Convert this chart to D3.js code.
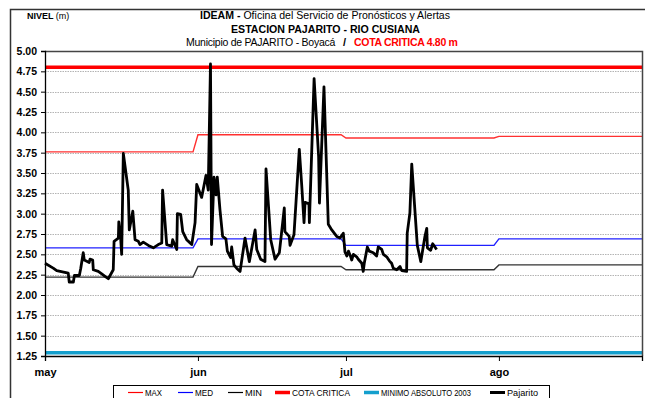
<!DOCTYPE html>
<html>
<head>
<meta charset="utf-8">
<script src="https://cdn.jsdelivr.net/npm/d3@7"></script>
<style>
  html, body { margin: 0; padding: 0; background: #fff; }
  svg { display: block; font-family: "Liberation Sans", Arial, sans-serif; }
</style>
</head>
<body>
<svg id="chart" width="645" height="398"></svg>
<script>
// ---- data ----------------------------------------------------------------
const monthLabels = ["may", "jun", "jul", "ago"];
const monthStarts = ["05-01 00", "06-01 00", "07-01 00", "08-01 00"];
const axisEnd = "08-30 00";
const levelTicks = [1.25, 1.50, 1.75, 2.00, 2.25, 2.50, 2.75, 3.00, 3.25, 3.50, 3.75, 4.00, 4.25, 4.50, 4.75, 5.00];

// historical monthly levels (m), one value per month May..Aug
const maxByMonth = [3.76, 3.97, 3.93, 3.95];
const medByMonth = [2.58, 2.69, 2.61, 2.69];
const minByMonth = [2.22, 2.35, 2.31, 2.37];

const cotaCritica = 4.80;
const minimoAbsoluto2003 = 1.29;

// Pajarito station readings: [month-day hour, level m]
const pajarito = [
  ["05-01 00",2.39],["05-02 16",2.33],["05-03 09",2.30],["05-05 17",2.27],["05-05 22",2.16],
  ["05-06 18",2.16],["05-06 23",2.24],["05-07 23",2.24],["05-08 06",2.33],["05-08 18",2.52],
  ["05-08 23",2.43],["05-09 23",2.40],["05-10 03",2.44],["05-10 16",2.43],["05-10 19",2.31],
  ["05-11 19",2.29],["05-12 12",2.26],["05-13 04",2.23],["05-13 20",2.20],["05-14 20",2.31],
  ["05-15 00",2.66],["05-15 21",2.70],["05-15 23",2.90],["05-16 08",2.70],["05-16 13",2.50],
  ["05-16 21",3.74],["05-17 21",3.29],["05-18 02",2.80],["05-18 19",3.03],["05-19 06",2.68],
  ["05-19 22",2.66],["05-20 06",2.62],["05-20 22",2.65],["05-21 23",2.61],["05-22 23",2.58],
  ["05-23 23",2.62],["05-24 16",2.64],["05-24 20",3.29],["05-25 16",2.62],["05-26 16",2.60],
  ["05-26 21",2.68],["05-27 17",2.56],["05-27 20",3.00],["05-28 12",2.99],["05-28 22",2.78],
  ["05-29 17",2.68],["05-30 06",2.65],["05-30 18",2.62],["05-31 10",2.89],["05-31 18",3.36],
  ["06-01 18",3.20],["06-02 15",3.47],["06-03 02",3.29],["06-03 13",4.84],["06-03 18",2.62],
  ["06-04 06",3.45],["06-04 16",3.23],["06-04 22",3.45],["06-05 11",3.05],["06-06 00",2.72],
  ["06-06 16",2.69],["06-06 23",2.54],["06-07 15",2.46],["06-07 20",2.59],["06-08 07",2.37],
  ["06-08 20",2.33],["06-09 13",2.29],["06-10 13",2.70],["06-11 10",2.41],["06-12 14",2.80],
  ["06-12 22",2.56],["06-13 17",2.44],["06-14 14",2.41],["06-14 19",3.55],["06-15 18",2.68],
  ["06-16 15",2.44],["06-17 12",2.52],["06-18 12",3.07],["06-18 15",2.78],["06-19 12",2.72],
  ["06-19 16",2.61],["06-20 11",2.74],["06-21 13",3.79],["06-22 01",3.34],["06-22 12",2.89],
  ["06-22 17",3.14],["06-23 12",3.12],["06-23 14",2.89],["06-24 13",4.66],["06-25 11",3.70],
  ["06-25 15",3.13],["06-26 13",4.56],["06-27 10",2.87],["06-28 03",2.80],["06-29 03",2.72],
  ["06-29 19",2.70],["06-30 11",2.76],["06-30 19",2.53],["07-01 04",2.48],["07-01 12",2.54],
  ["07-01 23",2.47],["07-02 04",2.43],["07-02 12",2.50],["07-03 04",2.47],["07-03 12",2.44],
  ["07-04 05",2.39],["07-04 12",2.29],["07-04 17",2.39],["07-05 08",2.59],["07-05 17",2.54],
  ["07-06 13",2.52],["07-07 05",2.48],["07-07 13",2.59],["07-08 06",2.56],["07-08 14",2.50],
  ["07-09 06",2.47],["07-09 19",2.42],["07-10 06",2.39],["07-10 14",2.33],["07-11 07",2.31],
  ["07-11 23",2.35],["07-12 07",2.30],["07-13 07",2.29],["07-13 10",2.76],["07-13 23",3.01],
  ["07-14 08",3.61],["07-15 11",2.61],["07-16 04",2.41],["07-17 00",2.72],["07-17 09",2.82],
  ["07-17 12",2.58],["07-18 04",2.55],["07-18 14",2.63],["07-19 09",2.56]
];

const legendItems = [
  { name: "MAX", color: "#ff0000", width: 1.2 },
  { name: "MED", color: "#0000ff", width: 1.2 },
  { name: "MIN", color: "#000000", width: 1.2 },
  { name: "COTA CRITICA", color: "#ff0000", width: 3.5 },
  { name: "MINIMO ABSOLUTO 2003", color: "#149fcd", width: 3.5 },
  { name: "Pajarito", color: "#000000", width: 3 }
];

// ---- layout --------------------------------------------------------------
const svg = d3.select("#chart");
const plot = { left: 45, right: 642, top: 51, bottom: 356 };
const parse = d3.timeParse("%m-%d %H");

const x = d3.scaleTime()
  .domain([parse(monthStarts[0]), parse(axisEnd)])
  .range([plot.left, plot.right]);
const y = d3.scaleLinear()
  .domain([1.25, 5.00])
  .range([plot.bottom, plot.top]);

// outer frame of the chart
svg.append("path")
  .attr("d", "M10.5,420 V9.5 H700")
  .attr("fill", "none").attr("stroke", "#333").attr("stroke-width", 1.5);

// ---- titles --------------------------------------------------------------
const nivel = svg.append("text").attr("x", 27).attr("y", 19)
  .attr("font-size", 9).attr("fill", "#000");
nivel.append("tspan").attr("font-weight", "bold").text("NIVEL ");
nivel.append("tspan").text("(m)");

const t1 = svg.append("text").attr("x", 200).attr("y", 19)
  .attr("font-size", 11).attr("textLength", 250).attr("lengthAdjust", "spacingAndGlyphs");
t1.append("tspan").attr("font-weight", "bold").text("IDEAM - ");
t1.append("tspan").text("Oficina del Servicio de Pronósticos y Alertas");

svg.append("text").attr("x", 231).attr("y", 33)
  .attr("font-size", 11).attr("font-weight", "bold")
  .attr("textLength", 189).attr("lengthAdjust", "spacingAndGlyphs")
  .text("ESTACION PAJARITO -  RIO CUSIANA");

// third title line: municipality, then the critical level in red
svg.append("text").attr("x", 186).attr("y", 46)
  .attr("font-size", 10.5).attr("letter-spacing", -0.25)
  .text("Municipio de PAJARITO - Boyacá");
svg.append("text").attr("x", 343).attr("y", 46)
  .attr("font-size", 11).attr("font-weight", "bold").text("/");
svg.append("text").attr("x", 354).attr("y", 46)
  .attr("font-size", 10.5).attr("font-weight", "bold").attr("fill", "#ff0000")
  .attr("letter-spacing", -0.3)
  .text("COTA CRITICA 4.80 m");

// ---- grid ------------------------------------------------------------------
svg.append("g").selectAll("line")
  .data(levelTicks.filter(v => v > 1.25 && v < 5))
  .join("line")
  .attr("x1", plot.left).attr("x2", plot.right)
  .attr("y1", d => Math.round(y(d)) + 0.5).attr("y2", d => Math.round(y(d)) + 0.5)
  .attr("stroke", "#b4b4b4").attr("stroke-width", 1).attr("stroke-dasharray", "1.5,1");

// ---- reference lines --------------------------------------------------------
const days = d3.timeDay.range(parse(monthStarts[0]), d3.timeDay.offset(parse(axisEnd), 1));
const monthIndex = d => d.getMonth() - 4;
const stepSeries = vals => days.map(d => ({ t: d, v: vals[monthIndex(d)] }));
const line = d3.line().x(d => x(d.t)).y(d => y(d.v));

svg.append("path").datum(stepSeries(maxByMonth)).attr("d", line)
  .attr("fill", "none").attr("stroke", "#ff3030").attr("stroke-width", 1.4);
svg.append("path").datum(stepSeries(medByMonth)).attr("d", line)
  .attr("fill", "none").attr("stroke", "#2020ff").attr("stroke-width", 1.4);
svg.append("path").datum(stepSeries(minByMonth)).attr("d", line)
  .attr("fill", "none").attr("stroke", "#333").attr("stroke-width", 1.4);

svg.append("line")
  .attr("x1", plot.left).attr("x2", plot.right)
  .attr("y1", y(cotaCritica)).attr("y2", y(cotaCritica))
  .attr("stroke", "#ff0000").attr("stroke-width", 3.5);
svg.append("line")
  .attr("x1", plot.left).attr("x2", plot.right)
  .attr("y1", y(minimoAbsoluto2003)).attr("y2", y(minimoAbsoluto2003))
  .attr("stroke", "#149fcd").attr("stroke-width", 3.5);

// ---- Pajarito series ---------------------------------------------------------
const obs = pajarito.map(([t, v]) => ({ t: parse(t), v }));
svg.append("path").datum(obs).attr("d", line)
  .attr("fill", "none").attr("stroke", "#000").attr("stroke-width", 2.8)
  .attr("stroke-linejoin", "round");

// ---- plot border and axes ---------------------------------------------------
svg.append("path")
  .attr("d", `M${plot.left},${plot.top + 0.5} H${plot.right + 0.5} V${plot.bottom}`)
  .attr("fill", "none").attr("stroke", "#444").attr("stroke-width", 1.5);

const yAxis = svg.append("g")
  .attr("transform", `translate(${plot.left},0)`)
  .call(d3.axisLeft(y).tickValues(levelTicks).tickFormat(d3.format(".2f")).tickSize(4).tickPadding(4));
const xAxis = svg.append("g")
  .attr("transform", `translate(0,${plot.bottom})`)
  .call(d3.axisBottom(x).tickValues(monthStarts.map(parse))
    .tickFormat((d, i) => monthLabels[i]).tickSize(5).tickPadding(7));

[yAxis, xAxis].forEach(g => {
  g.select(".domain").attr("stroke", "#000").attr("stroke-width", 1.3);
  g.selectAll(".tick line").attr("stroke", "#000");
  g.selectAll("text").attr("font-family", "'Liberation Sans', Arial, sans-serif")
    .attr("font-weight", "bold").attr("fill", "#000");
});
yAxis.selectAll("text").attr("font-size", 10.5);
xAxis.selectAll("text").attr("font-size", 11);

// ---- legend -----------------------------------------------------------------
const legend = svg.append("g");
legend.append("rect")
  .attr("x", 113.5).attr("y", 385.5).attr("width", 436).attr("height", 30)
  .attr("fill", "#fff").attr("stroke", "#000").attr("stroke-width", 1);

const legendX = [128, 178, 228, 275, 364, 490];
const legendTextLen = [17, 18, 17, 58, 90, 31];
const li = legend.selectAll("g.item").data(legendItems).join("g")
  .attr("class", "item")
  .attr("transform", (d, i) => `translate(${legendX[i]},392.5)`);
li.append("line").attr("x1", 0).attr("x2", 15)
  .attr("stroke", d => d.color).attr("stroke-width", d => d.width);
li.append("text").attr("x", 17).attr("y", 3.5)
  .attr("font-size", 9).attr("fill", "#000")
  .attr("textLength", (d, i) => legendTextLen[i]).attr("lengthAdjust", "spacingAndGlyphs")
  .text(d => d.name);
</script>
</body>
</html>
